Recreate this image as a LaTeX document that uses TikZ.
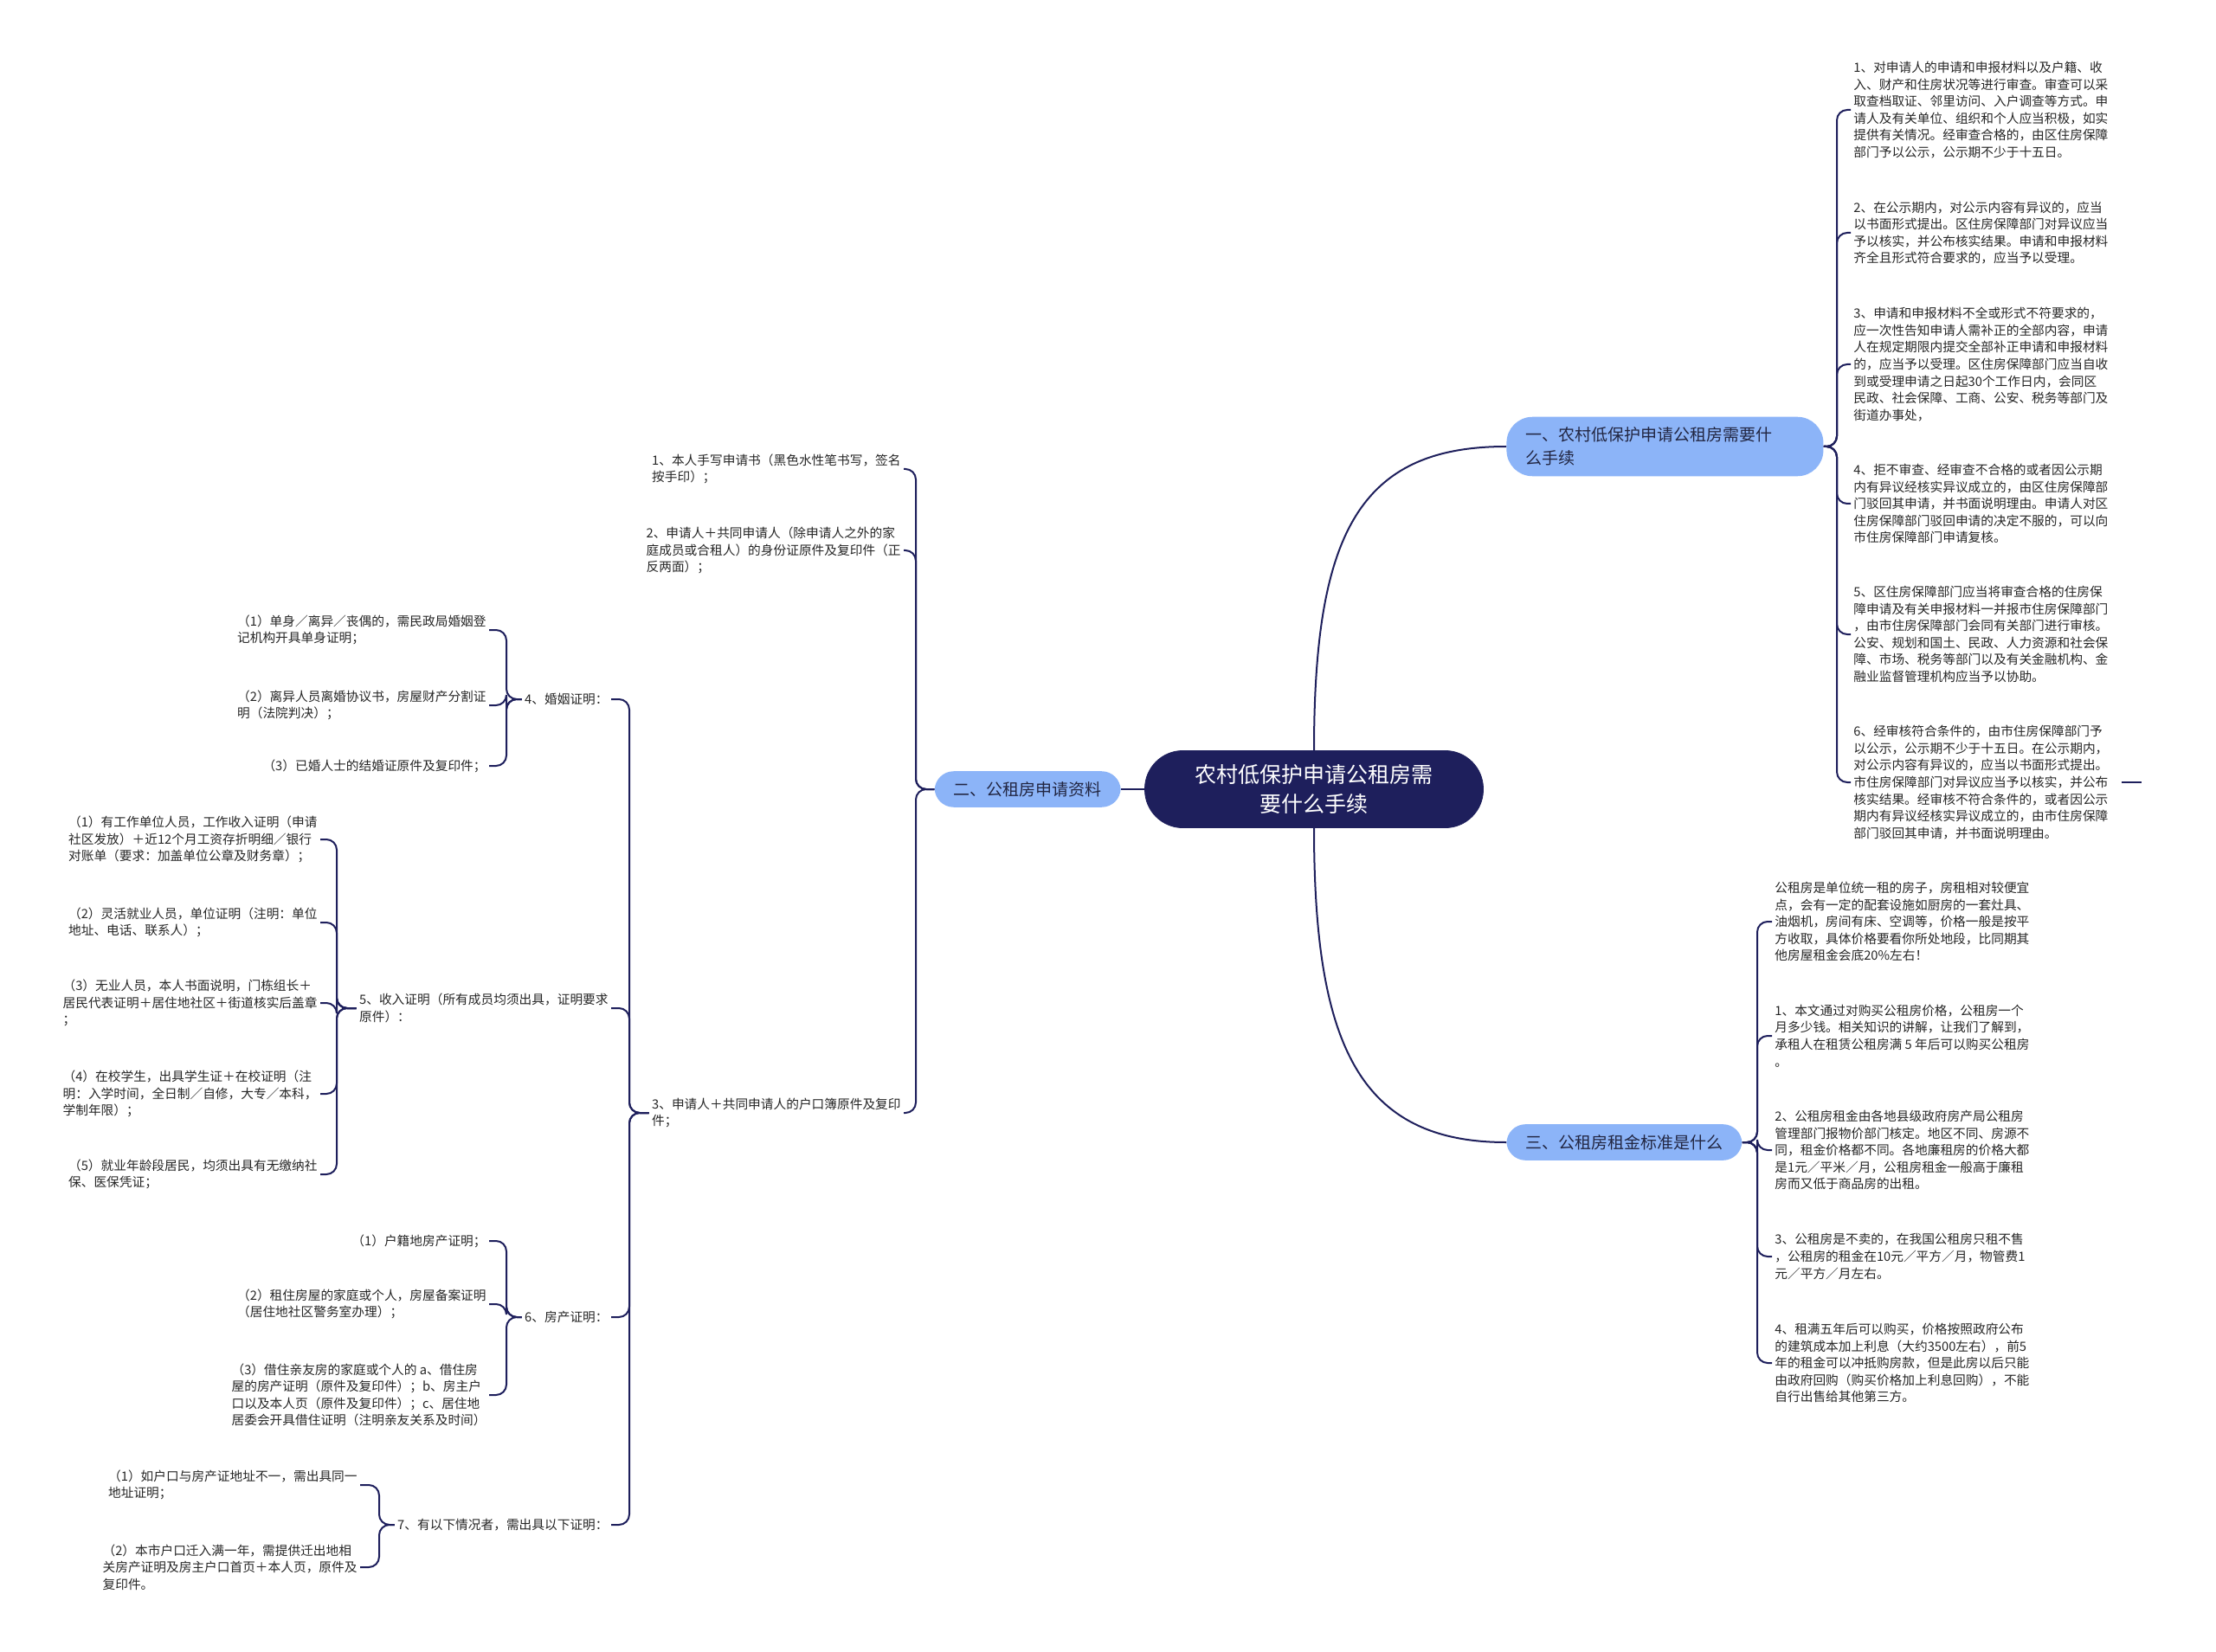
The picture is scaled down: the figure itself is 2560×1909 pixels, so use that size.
\documentclass[tikz,border=0pt]{standalone}
\usepackage{fontspec}
\setmainfont{Noto Sans CJK SC}
\usetikzlibrary{positioning}
\definecolor{TUnavy}{RGB}{30, 31, 92}
\definecolor{TUlblue}{RGB}{140, 180, 248}
\definecolor{TUdark}{RGB}{34, 38, 66}
\definecolor{TUgrey}{RGB}{38, 38, 38}

\begin{document}
\begin{tikzpicture}[x=0.5pt, y=-0.5pt,
		rootbox/.style={shape=rectangle, rounded corners=22pt, draw=TUnavy, fill=TUnavy, text=white, align=center, inner xsep=29pt, inner ysep=8pt, font=\fontsize{12.5}{17}\selectfont},
		branch/.style={shape=rectangle, rounded corners=11pt, fill=TUlblue, text=TUdark, align=left, inner xsep=11pt, inner ysep=6pt, font=\fontsize{9.5}{13.5}\selectfont},
		leaf/.style={inner sep=1.5pt, align=left, text=TUgrey, font=\fontsize{7.35}{9.8}\selectfont},
		leafr/.style={leaf, anchor=west},
		leafl/.style={leaf, anchor=east},
		link/.style={TUnavy, line width=1pt, rounded corners=6pt}]
		
		\fill[white] (0,0) rectangle (2560,1909);
		\useasboundingbox (0,0) rectangle (2560,1909);
		
		% Root
		\node[rootbox] (root) at (1518,912) {农村低保护申请公租房需\\要什么手续};
		\node[branch, text width=161pt, rounded corners=15pt, anchor=west] (b1) at (1740,516) {一、农村低保护申请公租房需要什\\么手续};
		\node[branch, left=13.5pt of root] (b2) {二、公租房申请资料};
		\node[branch, anchor=west] (b3) at (1740,1320) {三、公租房租金标准是什么};
		\draw[link] (root.north) .. controls +(0,-250) and +(-170,0) .. (b1.west);
		\draw[link] (root.south) .. controls +(0,250) and +(-170,0) .. (b3.west);
		\draw[link] (root) -- (b2);
		
		% Branch 1
		\node[leafr] (l1) at (2138,127) {1、对申请人的申请和申报材料以及户籍、收\\入、财产和住房状况等进行审查。审查可以采\\取查档取证、邻里访问、入户调查等方式。申\\请人及有关单位、组织和个人应当积极，如实\\提供有关情况。经审查合格的，由区住房保障\\部门予以公示，公示期不少于十五日。};
		\node[leafr] (l2) at (2138,269) {2、在公示期内，对公示内容有异议的，应当\\以书面形式提出。区住房保障部门对异议应当\\予以核实，并公布核实结果。申请和申报材料\\齐全且形式符合要求的，应当予以受理。};
		\node[leafr] (l3) at (2138,421) {3、申请和申报材料不全或形式不符要求的，\\应一次性告知申请人需补正的全部内容，申请\\人在规定期限内提交全部补正申请和申报材料\\的，应当予以受理。区住房保障部门应当自收\\到或受理申请之日起30个工作日内，会同区\\民政、社会保障、工商、公安、税务等部门及\\街道办事处，};
		\node[leafr] (l4) at (2138,582) {4、拒不审查、经审查不合格的或者因公示期\\内有异议经核实异议成立的，由区住房保障部\\门驳回其申请，并书面说明理由。申请人对区\\住房保障部门驳回申请的决定不服的，可以向\\市住房保障部门申请复核。};
		\node[leafr] (l5) at (2138,733) {5、区住房保障部门应当将审查合格的住房保\\障申请及有关申报材料一并报市住房保障部门\\，由市住房保障部门会同有关部门进行审核。\\公安、规划和国土、民政、人力资源和社会保\\障、市场、税务等部门以及有关金融机构、金\\融业监督管理机构应当予以协助。};
		\node[leafr] (l6) at (2138,904) {6、经审核符合条件的，由市住房保障部门予\\以公示，公示期不少于十五日。在公示期内，\\对公示内容有异议的，应当以书面形式提出。\\市住房保障部门对异议应当予以核实，并公布\\核实结果。经审核不符合条件的，或者因公示\\期内有异议经核实异议成立的，由市住房保障\\部门驳回其申请，并书面说明理由。};
		\coordinate (s1) at (2122,0);
		\coordinate (l6end) at (2474,904);
		\draw[link] (b1.east) -| (l1.west -| s1) -- (l1.west);
		\draw[link] (b1.east) -| (l2.west -| s1) -- (l2.west);
		\draw[link] (b1.east) -| (l3.west -| s1) -- (l3.west);
		\draw[link] (b1.east) -| (l4.west -| s1) -- (l4.west);
		\draw[link] (b1.east) -| (l5.west -| s1) -- (l5.west);
		\draw[link] (b1.east) -| (l6.west -| s1) -- (l6.west);
		\draw[link, shorten <=6pt] (l6.east) -- (l6end);
		
		% Branch 3
		\node[leafr] (m0) at (2047,1065) {公租房是单位统一租的房子，房租相对较便宜\\点，会有一定的配套设施如厨房的一套灶具、\\油烟机，房间有床、空调等，价格一般是按平\\方收取，具体价格要看你所处地段，比同期其\\他房屋租金会底20\%左右！};
		\node[leafr] (m1) at (2047,1197) {1、本文通过对购买公租房价格，公租房一个\\月多少钱。相关知识的讲解，让我们了解到，\\承租人在租赁公租房满 5 年后可以购买公租房\\。};
		\node[leafr] (m2) at (2047,1329) {2、公租房租金由各地县级政府房产局公租房\\管理部门报物价部门核定。地区不同、房源不\\同，租金价格都不同。各地廉租房的价格大都\\是1元／平米／月，公租房租金一般高于廉租\\房而又低于商品房的出租。};
		\node[leafr] (m3) at (2047,1452) {3、公租房是不卖的，在我国公租房只租不售\\，公租房的租金在10元／平方／月，物管费1\\元／平方／月左右。};
		\node[leafr] (m4) at (2047,1575) {4、租满五年后可以购买，价格按照政府公布\\的建筑成本加上利息（大约3500左右），前5\\年的租金可以冲抵购房款，但是此房以后只能\\由政府回购（购买价格加上利息回购），不能\\自行出售给其他第三方。};
		\coordinate (s3) at (2030,0);
		\draw[link] (b3.east) -| (m0.west -| s3) -- (m0.west);
		\draw[link] (b3.east) -| (m1.west -| s3) -- (m1.west);
		\draw[link] (b3.east) -| (m2.west -| s3) -- (m2.west);
		\draw[link] (b3.east) -| (m3.west -| s3) -- (m3.west);
		\draw[link] (b3.east) -| (m4.west -| s3) -- (m4.west);
		
		% Branch 2
		\node[leafl] (i1) at (1044,542) {1、本人手写申请书（黑色水性笔书写，签名\\按手印）；};
		\node[leafl] (i2) at (1044,636) {2、申请人＋共同申请人（除申请人之外的家\\庭成员或合租人）的身份证原件及复印件（正\\反两面）；};
		\node[leafl] (i3) at (1044,1286) {3、申请人＋共同申请人的户口簿原件及复印\\件；};
		\coordinate (s2) at (1058,0);
		\draw[link] (b2.west) -| (i1.east -| s2) -- (i1.east);
		\draw[link] (b2.west) -| (i2.east -| s2) -- (i2.east);
		\draw[link] (b2.west) -| (i3.east -| s2) -- (i3.east);
		
		% Item 3
		\node[leafl] (c4) at (706,808) {4、婚姻证明：};
		\node[leafl] (c5) at (706,1165) {5、收入证明（所有成员均须出具，证明要求\\原件）：};
		\node[leafl] (c6) at (706,1522) {6、房产证明：};
		\node[leafl] (c7) at (706,1762) {7、有以下情况者，需出具以下证明：};
		\coordinate (t3) at (727,0);
		\draw[link] (i3.west) -| (c4.east -| t3) -- (c4.east);
		\draw[link] (i3.west) -| (c5.east -| t3) -- (c5.east);
		\draw[link] (i3.west) -| (c6.east -| t3) -- (c6.east);
		\draw[link] (i3.west) -| (c7.east -| t3) -- (c7.east);
		
		% Marriage
		\node[leafl] (c4a) at (565,728) {（1）单身／离异／丧偶的，需民政局婚姻登\\记机构开具单身证明；};
		\node[leafl] (c4b) at (565,815) {（2）离异人员离婚协议书，房屋财产分割证\\明（法院判决）；};
		\node[leafl] (c4c) at (565,885) {（3）已婚人士的结婚证原件及复印件；};
		\coordinate (t4) at (585,0);
		\draw[link] (c4.west) -| (c4a.east -| t4) -- (c4a.east);
		\draw[link] (c4.west) -| (c4b.east -| t4) -- (c4b.east);
		\draw[link] (c4.west) -| (c4c.east -| t4) -- (c4c.east);
		
		% Income
		\node[leafl] (c5a) at (370,970) {（1）有工作单位人员，工作收入证明（申请\\社区发放）＋近12个月工资存折明细／银行\\对账单（要求：加盖单位公章及财务章）；};
		\node[leafl] (c5b) at (370,1066) {（2）灵活就业人员，单位证明（注明：单位\\地址、电话、联系人）；};
		\node[leafl] (c5c) at (370,1159) {（3）无业人员，本人书面说明，门栋组长＋\\居民代表证明＋居住地社区＋街道核实后盖章\\；};
		\node[leafl] (c5d) at (370,1264) {（4）在校学生，出具学生证＋在校证明（注\\明：入学时间，全日制／自修，大专／本科，\\学制年限）；};
		\node[leafl] (c5e) at (370,1357) {（5）就业年龄段居民，均须出具有无缴纳社\\保、医保凭证；};
		\coordinate (t5) at (389,0);
		\draw[link] (c5.west) -| (c5a.east -| t5) -- (c5a.east);
		\draw[link] (c5.west) -| (c5b.east -| t5) -- (c5b.east);
		\draw[link] (c5.west) -| (c5c.east -| t5) -- (c5c.east);
		\draw[link] (c5.west) -| (c5d.east -| t5) -- (c5d.east);
		\draw[link] (c5.west) -| (c5e.east -| t5) -- (c5e.east);
		
		% Property
		\node[leafl] (c6a) at (565,1434) {（1）户籍地房产证明；};
		\node[leafl] (c6b) at (565,1507) {（2）租住房屋的家庭或个人，房屋备案证明\\（居住地社区警务室办理）；};
		\node[leafl] (c6c) at (565,1612) {（3）借住亲友房的家庭或个人的 a、借住房\\屋的房产证明（原件及复印件）；b、房主户\\口以及本人页（原件及复印件）；c、居住地\\居委会开具借住证明（注明亲友关系及时间）};
		\coordinate (t6) at (585,0);
		\draw[link] (c6.west) -| (c6a.east -| t6) -- (c6a.east);
		\draw[link] (c6.west) -| (c6b.east -| t6) -- (c6b.east);
		\draw[link] (c6.west) -| (c6c.east -| t6) -- (c6c.east);
		
		% Other cases
		\node[leafl] (c7a) at (416,1716) {（1）如户口与房产证地址不一，需出具同一\\地址证明；};
		\node[leafl] (c7b) at (416,1811) {（2）本市户口迁入满一年，需提供迁出地相\\关房产证明及房主户口首页＋本人页，原件及\\复印件。};
		\coordinate (t7) at (438,0);
		\draw[link] (c7.west) -| (c7a.east -| t7) -- (c7a.east);
		\draw[link] (c7.west) -| (c7b.east -| t7) -- (c7b.east);
	\end{tikzpicture}
\end{document}
